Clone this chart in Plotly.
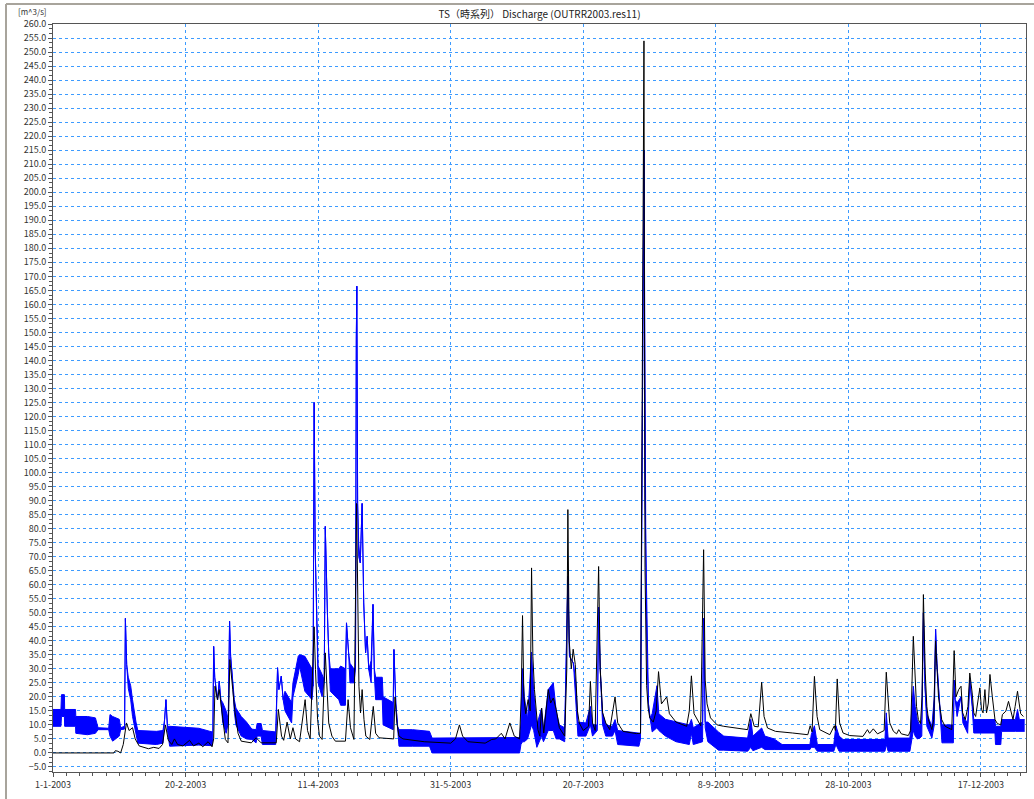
import plotly.graph_objects as go
import pandas as pd

# ---------------- data ----------------
# simulated discharge (black line): day-of-year offsets from 1-1-2003 and values [m^3/s]
sim_day = [0, 23, 23.5, 24.5, 25.5, 26.5, 27.7, 28.7, 30, 31, 32.5, 34, 36, 38, 40, 41.3, 42.4, 43.5,
           44.8, 45.8, 47, 49, 51.5, 53, 55, 56.5, 58.5, 60, 60.6, 61.1, 62, 62.7, 64, 65, 66, 66.7,
           67.8, 68.5, 69.8, 71, 74.8, 76.6, 78.5, 84.2, 85, 86.2, 87, 88.3, 89.5, 90.5, 91.5, 93,
           95.1, 96, 97, 98.5, 99, 99.8, 100.5, 101.5, 102.7, 103.4, 104, 105.2, 106.5, 110.3, 111.3,
           112.2, 113.5, 114.5, 115, 115.4, 116, 116.6, 117.3, 118, 119.5, 120.8, 121.7, 123, 128.5,
           129, 129.7, 130.5, 132, 140, 150, 151.8, 153.3, 154.5, 156.5, 163, 165.5, 167, 169.1,
           170.5, 172.3, 174, 176, 176.6, 177.1, 177.6, 178.3, 179.2, 180, 180.5, 181, 181.6, 182.9,
           183.6, 184.3, 185.1, 186.8, 187.7, 188.7, 189.8, 191, 193, 193.8, 194.2, 194.7, 195.5,
           196.2, 197, 197.8, 198.5, 200, 202, 202.7, 203.5, 204.5, 205.8, 206.4, 207.3, 208.5, 210,
           212, 213, 215, 220, 221.6, 222.9, 223.3, 223.9, 224.5, 225.1, 226.4, 227.5, 228.4, 229.5,
           231.5, 232.5, 235, 239, 240, 240.8, 241.8, 244.3, 245.4, 246, 246.7, 248, 250.5, 253, 262,
           263.2, 264.5, 266, 267.3, 268.2, 269.5, 272.5, 279, 284.7, 285.6, 286.3, 287.2, 288.2,
           289.2, 293, 294.7, 295.1, 295.8, 296.7, 298, 300.5, 305.5, 307.2, 308, 309.4, 311, 313.5,
           314.3, 315, 315.6, 317, 318.2, 319, 320, 322.6, 323.5, 324.5, 325.1, 325.7, 326.4, 327.2,
           327.8, 328.3, 329, 329.6, 330.2, 331.5, 332.2, 332.9, 334, 335.2, 336.5, 339, 339.9, 340.6,
           341.6, 342.5, 343.1, 344.1, 345.1, 345.8, 346.7, 347.3, 348, 348.6, 349.6, 350.2, 350.8,
           351.5, 352.1, 352.8, 353.4, 354.3, 355.3, 356.2, 357.5, 358.1, 359.4, 360.4, 361.3, 362.1,
           362.9, 363.8, 364.4, 365, 366]
sim_val = [0, 0, 0.8, 0.6, 0, 3, 10.7, 8, 9, 5, 2.5, 2, 1.5, 2, 1.6, 3, 10, 4.5,
           3, 5, 3, 2.5, 4.5, 2.5, 3.5, 2.2, 4, 2.2, 5, 23.8, 19, 22.6, 12, 4.8, 3.6, 33.3,
           22.6, 15.5, 7, 4.2, 3.6, 5.4, 3.6, 3.6, 15.5, 6, 4.5, 11, 5, 9, 5, 4,
           19, 8, 5, 45, 29.7, 12, 6, 4.8, 35.7, 20, 10.7, 6, 4.2, 4.2, 19,
           9, 4.8, 89, 41.6, 23.8, 14.3, 22.6, 11.9, 6, 4.8, 16.6, 7, 5.4, 5,
           20, 10.7, 6, 5, 4, 3.5, 5, 10, 6, 4, 3.5, 4.8, 5, 7,
           5, 10.7, 6, 5, 20, 49, 20, 14, 19, 15, 66, 34.5, 22.6, 8.3,
           6, 16, 7.1, 22.6, 17.8, 19.6, 15.5, 9, 6, 30, 86.8, 40, 30,
           37, 31.5, 15, 10.7, 8, 9.5, 25.5, 10.7, 8, 66.5, 30, 14.3, 10.7, 8.3,
           20, 10.7, 7.7, 6.9, 7, 254, 66, 24, 16, 12.5, 11, 15, 29, 17.5,
           20, 14, 11, 9.5, 15, 27.5, 14, 9.7, 72.5, 26, 17.5, 12.5, 10, 9.5, 8.3,
           14, 9.5, 9.3, 25.2, 13, 8.9, 7.7, 7.1, 6.5, 9.7, 7.5, 27.3, 13,
           8.3, 6.5, 9.7, 8, 26.4, 10.7, 7.1, 6.2, 5.9, 8.3, 7, 8.6, 6.8, 8,
           28.8, 16.6, 10.7, 7.7, 6.8, 8.3, 6.8, 6.2, 8, 41.6, 26, 16.6, 11.9, 10.5,
           20, 56.5, 28.5, 16.6, 11.9, 8.3, 12, 40, 20, 11.9, 9.5, 8.3, 36.5, 20,
           22.6, 23.8, 14.3, 11.9, 16.6, 28.5, 21.4, 14.3, 13, 16.6, 23.2, 15.5, 14.3,
           22.6, 14.3, 17.8, 28, 20, 11.9, 10.5, 10, 13.7, 14.9, 18.4, 14.3, 11.9,
           16.6, 22, 17.8, 14, 13]

# observed discharge (blue): lower and upper edge of the noisy band
obs_day = [0, 3.0, 3.2, 4.3, 4.4, 8.5, 8.6, 13, 16, 17, 21, 21.5, 22.5, 25, 25.5, 27, 27.3, 27.8,
           28.4, 29.3, 30, 30.8, 31.3, 32, 39, 41.5, 42.1, 42.6, 43.2, 44, 55, 60, 60.3, 60.6, 61,
           61.5, 62.1, 62.7, 63.3, 64, 65.3, 66.1, 66.6, 67, 67.7, 68.4, 69, 71, 73, 75, 76.6, 77,
           78.5, 79, 84, 84.4, 84.7, 85.2, 86.1, 86.8, 87.5, 90, 90.5, 92.5, 93, 95, 97.7, 98.1,
           98.5, 98.9, 99.2, 99.5, 100, 101.5, 102.3, 102.7, 103.1, 103.5, 104, 104.6, 107.8, 108.5,
           110.3, 110.7, 111.5, 112, 113.5, 114.1, 114.4, 114.6, 114.9, 115.3, 115.9, 116.6, 117.2,
           117.9, 118.5, 119.1, 120, 120.7, 121.2, 121.7, 124.2, 124.5, 128.3, 128.6, 129.3, 130,
           130.5, 135.6, 142, 143, 176, 176.5, 177.1, 177.8, 179, 180.5, 181.3, 182.5, 184.3, 185,
           186.8, 188.7, 189.8, 191, 193, 194.2, 194.8, 196.3, 197.2, 198, 201, 202.7, 203.5, 205.3,
           205.8, 206.4, 207.3, 208.5, 211, 212, 213, 221, 221.6, 222.9, 223.3, 223.6, 224, 224.6,
           225.2, 226, 227.8, 228.5, 231, 235, 240, 240.8, 241.5, 245, 245.4, 246, 247, 251, 253,
           262, 263.2, 264, 267.3, 268.5, 272, 275, 285.5, 286, 287.2, 288.3, 294.5, 295.3, 296.5,
           298, 313.8, 314.3, 315, 323.2, 324.5, 325.2, 326, 327, 327.7, 328.3, 328.9, 329.6, 331.5,
           332.4, 332.9, 333.4, 334, 334.6, 335.3, 339.6, 339.9, 340.3, 341, 342.5, 343.2, 345,
           345.8, 346.7, 347.3, 355.3, 355.5, 357.5, 357.8, 363, 363.8, 364.5, 366.5]
obs_lo = [9.5, 9.5, 13, 13, 9.5, 9.5, 7, 6.5, 7, 8.3, 8.3, 6, 4.2, 6, 8.3, 8.5, 48, 31.5,
          23, 19, 13, 9, 7.7, 3.5, 3, 3.5, 12, 19, 8, 2.4, 2.8, 2.6, 6, 38, 27,
          22.6, 19, 25.6, 19, 11, 7, 10.7, 47, 34.5, 26, 14.5, 10, 6, 5, 4.8, 3.6, 6,
          6, 3, 3, 18, 30.4, 22.6, 27.4, 19, 15, 10.7, 20, 28, 31, 22, 19, 23.8,
          125, 72.5, 58, 41.6, 25, 20, 26, 80.8, 61.8, 50, 35.7, 22, 19, 17,
          17, 46.4, 35.7, 25, 25, 30, 148, 166.5, 89, 70, 67.8, 89, 53.5,
          35.7, 41.6, 29.7, 25, 53, 28, 19, 19, 10, 8.3, 36.9, 17.8, 9.5,
          2.4, 2.4, 2.4, 0, 0, 3, 4, 4, 5, 10, 8, 2, 6, 4,
          8, 8, 5, 5, 4, 63, 34.5, 32, 20, 6, 6, 10, 6, 8,
          52, 30, 10, 6, 6, 8, 3, 2.4, 5, 215, 91, 74, 36, 17.5,
          12.5, 7.5, 9, 8, 6, 4, 3, 7, 3, 4, 48, 9, 4, 1, 1,
          0.6, 2, 0.8, 2, 1.2, 1.2, 1.2, 1.2, 2, 2, 0.6, 0.6, 3, 0.6,
          0.6, 0.6, 3, 0.6, 0.6, 8, 6, 5, 5.3, 6, 50, 23.8, 9.5, 5.3,
          10, 44.2, 32, 22.6, 15.5, 3.6, 3.6, 26, 19, 13, 20, 10.7, 7,
          26, 16.6, 7.1, 7.1, 3, 3, 7.7, 7.7, 7.7, 7.7, 7.7]
obs_hi = [15.5, 15.5, 20.8, 20.8, 15.5, 15.5, 13, 13, 12.5, 9, 8.8, 13.7, 13, 12, 9, 9.5, 48, 31.5,
          27, 24, 19, 13, 11, 8, 7.7, 8, 12, 19, 9.5, 9.5, 8.8, 7.5, 8, 38, 27,
          22.6, 19, 25.6, 19, 18, 15, 12, 47, 34.5, 26, 19, 16, 13, 11, 8.5, 8.3, 10.5,
          10.5, 8, 7.5, 18, 30.4, 22.6, 27.4, 19, 22, 18, 25, 34.5, 35, 34.5, 30, 23.8,
          125, 72.5, 58, 41.6, 31, 28, 26, 80.8, 61.8, 50, 35.7, 30, 30, 31,
          30, 46.4, 35.7, 32, 30, 30, 148, 166.5, 89, 75, 67.8, 89, 53.5,
          35.7, 41.6, 29.7, 33, 53, 30, 27, 27, 20, 18, 36.9, 17.8, 9.5,
          8.3, 8.3, 7.7, 5.3, 5.5, 10.7, 30, 20, 12, 36, 22, 10, 16, 8,
          22.6, 25, 15, 10, 9, 63, 34.5, 32, 25, 11, 10.7, 16.6, 10, 10,
          52, 30, 14.3, 10, 9.5, 11.9, 8, 7, 7, 215, 91, 74, 36, 17.5,
          12.5, 14, 24, 14, 12, 11, 10, 12, 9, 11, 48, 11, 11, 7.5, 6,
          5.3, 12, 6, 8.9, 6, 5, 3, 3, 6.5, 9.7, 3, 3, 9.7, 6,
          4.8, 4.8, 14.3, 5.3, 5.3, 23.8, 16.6, 11.9, 9.5, 12, 50, 23.8, 14, 9.5,
          20, 44.2, 32, 22.6, 15.5, 10, 10, 26, 19, 17.8, 20, 13, 10.7,
          26, 16.6, 11.9, 11.9, 9.5, 9.5, 11.9, 11.9, 15.5, 11.9, 11.9]

title_text = "TS（時系列） Discharge (OUTRR2003.res11)"
unit_text = "[m^3/s]"

base = pd.Timestamp("2003-01-01")


def to_dates(days):
    return [(base + pd.Timedelta(days=float(d))).strftime("%Y-%m-%d %H:%M:%S") for d in days]


obs_x = to_dates(obs_day)
sim_x = to_dates(sim_day)

FONT = "Noto Sans CJK JP"
BLUE = "#0000ff"
GRID = "#3d9bff"
AXIS = "#555555"
DAY_MS = 86400000

fig = go.Figure()
fig.add_trace(go.Scatter(x=obs_x, y=obs_lo, mode="lines",
                         line=dict(color=BLUE, width=1), showlegend=False, hoverinfo="skip"))
fig.add_trace(go.Scatter(x=obs_x, y=obs_hi, mode="lines", fill="tonexty", fillcolor=BLUE,
                         line=dict(color=BLUE, width=1), showlegend=False))
fig.add_trace(go.Scatter(x=sim_x, y=sim_val, mode="lines",
                         line=dict(color="#000000", width=1), showlegend=False))

L, R, T, B = 53, 8, 24, 27
W, H = 1034, 799
pw, ph = W - L - R, H - T - B

fig.update_layout(
    width=W, height=H,
    margin=dict(l=L, r=R, t=T, b=B),
    paper_bgcolor="white", plot_bgcolor="white",
    showlegend=False,
    font=dict(family=FONT, size=9, color="#333333"),
    title=dict(text=title_text, x=(W - R + L) / 2 / W, xanchor="center", xref="container",
               y=1 - 14 / H, yanchor="middle", yref="container",
               font=dict(family=FONT, size=10, color="#222222")),
    xaxis=dict(
        type="date",
        range=["2003-01-01", "2004-01-03"],
        tick0="2003-01-01", dtick=50 * DAY_MS,
        tickformat="%-d-%-m-%Y",
        ticks="outside", ticklen=4, tickcolor=AXIS,
        tickfont=dict(family=FONT, size=9, color="#333333"),
        showgrid=True, gridcolor=GRID, griddash="dot", gridwidth=1,
        showline=True, linecolor=AXIS, linewidth=1, mirror=True,
        zeroline=False,
        minor=dict(tick0="2003-01-01", dtick=5 * DAY_MS, ticks="outside", ticklen=3,
                   tickcolor=AXIS, showgrid=False),
    ),
    yaxis=dict(
        range=[-6.8, 260.02],
        tick0=0, dtick=5, tickformat=".1f",
        ticks="outside", ticklen=4, tickcolor=AXIS,
        tickfont=dict(family=FONT, size=9, color="#333333"),
        showgrid=True, gridcolor=GRID, griddash="dot", gridwidth=1,
        showline=True, linecolor=AXIS, linewidth=1, mirror=True,
        zeroline=False,
        minor=dict(tick0=0, dtick=5 / 3, ticks="outside", ticklen=3,
                   tickcolor=AXIS, showgrid=False),
    ),
)

# unit label at top-left
fig.add_annotation(text=unit_text, xref="paper", yref="paper",
                   x=(16 - L) / pw, y=(H - B - 11) / ph, xanchor="left", yanchor="middle",
                   showarrow=False, font=dict(family=FONT, size=8, color="#333333"))

# outer window frame (gray) at top and left
fx = (6 - L) / pw
fy_top = (H - B - 4) / ph
fy_bot = (H - B - H) / ph
fig.add_shape(type="line", xref="paper", yref="paper", x0=fx, x1=(W - L) / pw, y0=fy_top, y1=fy_top,
              line=dict(color="#a8a49c", width=2))
fig.add_shape(type="line", xref="paper", yref="paper", x0=fx, x1=fx, y0=fy_top, y1=fy_bot,
              line=dict(color="#a8a49c", width=2))

fig.write_html("out.html")
